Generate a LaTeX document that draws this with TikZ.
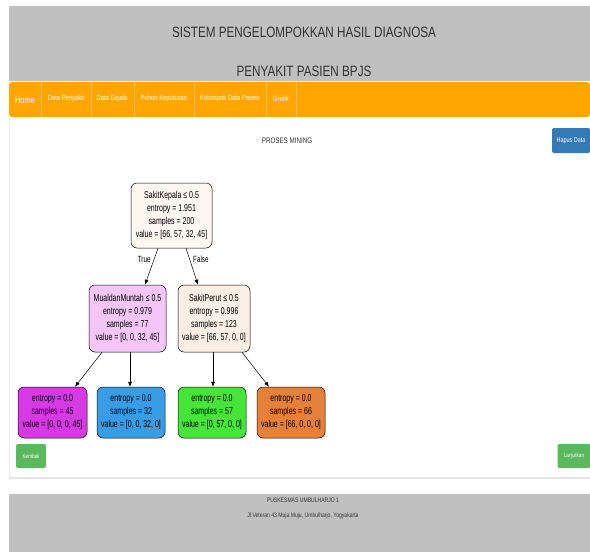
\documentclass[tikz,border=0pt]{standalone}
\usepackage{fontspec}
\setmainfont[FakeStretch=0.78]{Liberation Sans}
\newfontfamily\treefont[FakeStretch=0.7]{Liberation Sans}
\usepackage{tikz}
\usetikzlibrary {arrows.meta}
\definecolor{hdrgray}{HTML}{C0C0C0}
\definecolor{navorange}{HTML}{FFA500}
\definecolor{navline}{HTML}{F7C46A}
\definecolor{txtgray}{HTML}{333333}
\definecolor{btnblue}{HTML}{337AB7}
\definecolor{btngreen}{HTML}{5CB85C}
\definecolor{rootfill}{HTML}{FDF7F2}
\definecolor{mualfill}{HTML}{F3C6F7}
\definecolor{perutfill}{HTML}{FBEEE4}
\definecolor{leafmagenta}{HTML}{D739E5}
\definecolor{leafblue}{HTML}{399DE5}
\definecolor{leafgreen}{HTML}{47E539}
\definecolor{leaforange}{HTML}{E58139}

\begin{document}
\begin{tikzpicture}[x=1pt, y=-1pt,
		tnode/.style={draw, line width=.5pt, rounded corners=6pt, align=center, inner sep=0pt, font=\treefont\fontsize{10}{13}\selectfont},
		edge/.style={line width=.5pt, arrows = {-Latex[length=5pt, width=4pt]}},
		navitem/.style={text=white, font=\fontsize{7.5}{8}\selectfont},
		btn/.style={rounded corners=2pt, text=white, font=\fontsize{6}{6}\selectfont}]
		\useasboundingbox[fill=white] (0,0) rectangle (590,552);
		\fill[hdrgray] (9,6) rectangle (590,81);
		\node[text=txtgray, font=\fontsize{15}{15}\selectfont] (title1) at (304,32) {SISTEM PENGELOMPOKKAN HASIL DIAGNOSA};
		\node[text=txtgray, font=\fontsize{15}{15}\selectfont] (title2) at (304,71) {PENYAKIT PASIEN BPJS};
		\fill[navorange, rounded corners=3pt] (9,82) rectangle (590,117);
		\foreach \sx in {41,91,134,194,266,296}
			\draw[navline, line width=.6pt] (\sx,82) -- (\sx,117);
		\node[text=white, font=\fontsize{9.5}{10}\selectfont] (home) at (25,100) {Home};
		\node[navitem] (penyakit) at (66,99) {Data Penyakit};
		\node[navitem] (gejala) at (112,99) {Data Gejala};
		\node[navitem] (pohon) at (164,99) {Pohon Keputusan};
		\node[navitem] (kelompok) at (230,99) {Kelompok Data Pasien};
		\node[navitem] (grafik) at (281,99) {Grafik};
		\draw[black!10, line width=2pt] (9,478) -- (590,478);
		\draw[black!8, line width=.8pt] (9,117) -- (9,478);
		\node[text=txtgray, font=\fontsize{8}{8}\selectfont] (mining) at (287,141) {PROSES MINING};
		\node[btn, fill=btnblue, minimum width=38pt, minimum height=25pt, font=\fontsize{7}{7}\selectfont] (hapus) at (571,140.5) {Hapus Data};
		\node[tnode, fill=rootfill, minimum width=81pt, minimum height=65pt] (root) at (171.5,215.5) {SakitKepala ≤ 0.5\\entropy = 1.951\\samples = 200\\value = [66, 57, 32, 45]};
		\node[tnode, fill=mualfill, minimum width=77pt, minimum height=67pt] (mual) at (127.5,318.5) {MualdanMuntah ≤ 0.5\\entropy = 0.979\\samples = 77\\value = [0, 0, 32, 45]};
		\node[tnode, fill=perutfill, minimum width=72pt, minimum height=67pt] (perut) at (214,318.5) {SakitPerut ≤ 0.5\\entropy = 0.996\\samples = 123\\value = [66, 57, 0, 0]};
		\node[tnode, fill=leafmagenta, minimum width=69pt, minimum height=51pt] (leafa) at (52.5,412.5) {entropy = 0.0\\samples = 45\\value = [0, 0, 0, 45]};
		\node[tnode, fill=leafblue, minimum width=68pt, minimum height=51pt] (leafb) at (131,412.5) {entropy = 0.0\\samples = 32\\value = [0, 0, 32, 0]};
		\node[tnode, fill=leafgreen, minimum width=68pt, minimum height=51pt] (leafc) at (212,412.5) {entropy = 0.0\\samples = 57\\value = [0, 57, 0, 0]};
		\node[tnode, fill=leaforange, minimum width=68pt, minimum height=51pt] (leafd) at (291,412.5) {entropy = 0.0\\samples = 66\\value = [66, 0, 0, 0]};
		\draw[edge] ([xshift=-13.5pt]root.south) -- ([xshift=17.5pt]mual.north) node[pos=.3, left, font=\treefont\fontsize{9}{9}\selectfont] (true) {True};
		\draw[edge] ([xshift=14.5pt]root.south) -- ([xshift=-16pt]perut.north) node[pos=.3, right, font=\treefont\fontsize{9}{9}\selectfont] (false) {False};
		\draw[edge] ([xshift=-25.5pt]mual.south) -- ([xshift=22.5pt]leafa.north);
		\draw[edge] ([xshift=2.5pt]mual.south) -- ([xshift=-1pt]leafb.north);
		\draw[edge] ([xshift=-1pt]perut.south) -- ([xshift=1pt]leafc.north);
		\draw[edge] ([xshift=28pt]perut.south) -- ([xshift=-22pt]leafd.north);
		\node[btn, fill=btngreen, minimum width=30pt, minimum height=24pt] (kembali) at (31,456) {Kembali};
		\node[btn, fill=btngreen, minimum width=33pt, minimum height=24pt] (lanjut) at (574,456) {Lanjutkan};
		\fill[hdrgray] (9,494) rectangle (590,552);
		\node[text=txtgray, font=\fontsize{6.5}{7}\selectfont] (puskesmas) at (303,500) {PUSKESMAS UMBULHARJO 1};
		\node[text=txtgray, font=\fontsize{6.5}{7}\selectfont] (alamat) at (303,516) {Jl.Veteran 43 Muja Muju, Umbulharjo, Yogyakarta};
	\end{tikzpicture}
\end{document}
